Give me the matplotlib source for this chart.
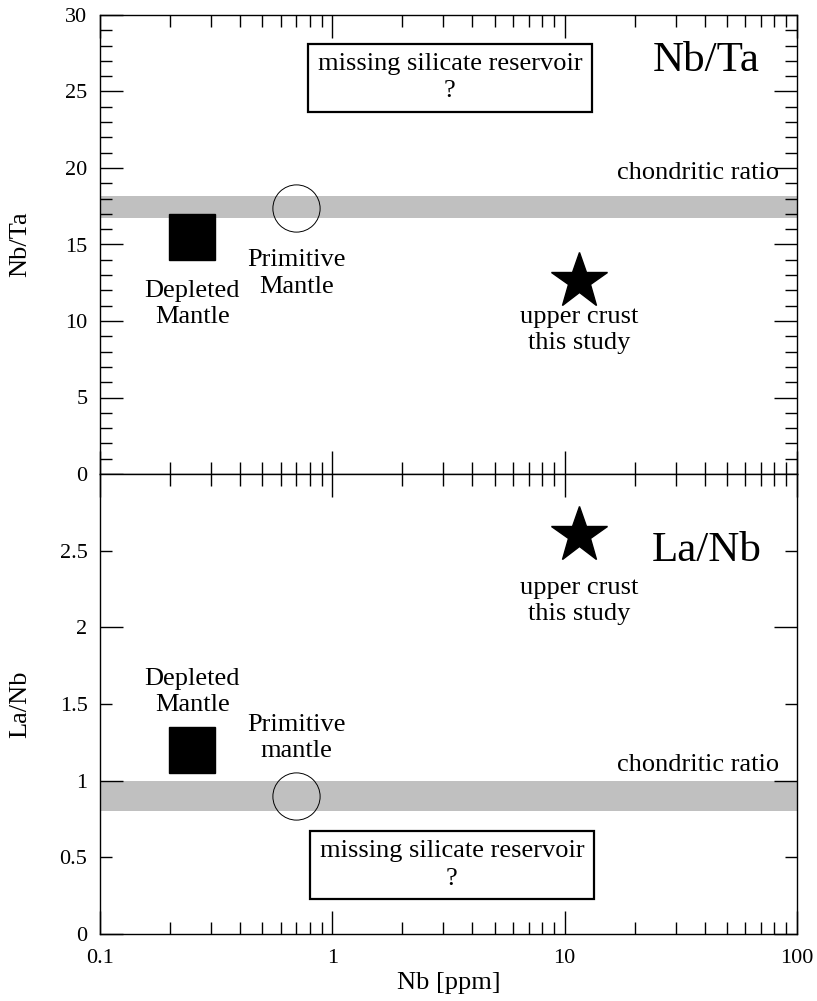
import numpy as np
import matplotlib
matplotlib.use("Agg")
import matplotlib.pyplot as plt
from matplotlib.ticker import FixedLocator, FixedFormatter, NullFormatter

plt.rcParams['font.family'] = ['Liberation Serif', 'DejaVu Serif']

# reservoirs: depleted mantle, primitive mantle, upper crust (this study)
nb = [0.25, 0.70, 11.5]          # Nb [ppm]
nb_ta = [15.5, 17.4, 12.6]
la_nb = [1.2, 0.9, 2.6]

# chondritic ratio bands (low, high)
chond_nbta = (16.7, 18.2)
chond_lanb = (0.8, 1.0)

# labels
top_labels = ['Depleted\nMantle', 'Primitive\nMantle', 'upper crust\nthis study']
bot_labels = ['Depleted\nMantle', 'Primitive\nmantle', 'upper crust\nthis study']
x_major = [0.1, 1, 10, 100]
x_minor = [m * d for d in (0.1, 1, 10) for m in range(2, 10)]

FS = 19
LS = 1.25
fig = plt.figure(figsize=(8.17, 10.01), dpi=100)
W, H = 817., 1001.
L, R = 100 / W, 797 / W
ax1 = fig.add_axes([L, 1 - 474 / H, R - L, (474 - 15) / H])
ax2 = fig.add_axes([L, 1 - 934 / H, R - L, (934 - 474) / H])


def style(ax):
    ax.set_xscale('log')
    ax.set_xlim(0.1, 100)
    ax.xaxis.set_major_locator(FixedLocator(x_major))
    ax.xaxis.set_minor_locator(FixedLocator(x_minor))
    ax.xaxis.set_minor_formatter(NullFormatter())
    ax.tick_params(which='both', direction='in', top=True, right=True,
                   width=1, labelsize=16, pad=9)
    ax.tick_params(which='major', length=16.5)
    ax.tick_params(which='minor', length=8.6)
    for s in ax.spines.values():
        s.set_linewidth(1)


def box(ax, x, y):
    ax.text(x, y, 'missing silicate reservoir\n?', transform=ax.get_yaxis_transform(),
            ha='center', va='center', fontsize=FS, linespacing=1.3,
            bbox=dict(boxstyle='square,pad=0.36', fc='white', ec='black', lw=1.6))


style(ax1)
style(ax2)

# --- top panel: Nb/Ta
ax1.set_ylim(0, 30)
ax1.yaxis.set_major_locator(FixedLocator(np.arange(0, 31, 5)))
ax1.yaxis.set_minor_locator(FixedLocator(np.arange(0, 31, 1)))
ax1.xaxis.set_major_formatter(NullFormatter())
ax1.axhspan(*chond_nbta, color='#c0c0c0', lw=0)
ax1.plot(nb[0], nb_ta[0], 's', ms=33, color='black')
ax1.plot(nb[1], nb_ta[1], 'o', ms=34, mfc='none', mec='black', mew=0.7)
ax1.plot(nb[2], nb_ta[2], '*', ms=42, color='black')

ax1.text(nb[0], 11.1, top_labels[0], ha='center', va='center', fontsize=FS, linespacing=LS)
ax1.text(nb[1], 13.1, top_labels[1], ha='center', va='center', fontsize=FS, linespacing=LS)
ax1.text(nb[2], 9.4, top_labels[2], ha='center', va='center', fontsize=FS, linespacing=LS)
ax1.text(0.975, 19.7, 'chondritic ratio', transform=ax1.get_yaxis_transform(),
         ha='right', va='center', fontsize=FS)
ax1.text(0.87, 27.0, 'Nb/Ta', transform=ax1.get_yaxis_transform(),
         ha='center', va='center', fontsize=31)
box(ax1, 0.502, 25.9)
ax1.set_ylabel('Nb/Ta', fontsize=FS, va='center', ha='center')
ax1.yaxis.set_label_coords(-0.115, 0.5)

# --- bottom panel: La/Nb
ax2.set_ylim(0, 3)
ax2.yaxis.set_major_locator(FixedLocator([0, 1, 2]))
ax2.yaxis.set_major_formatter(FixedFormatter(['0', '1', '2']))
ax2.yaxis.set_minor_locator(FixedLocator([0.5, 1.5, 2.5]))
ax2.yaxis.set_minor_formatter(FixedFormatter(['0.5', '1.5', '2.5']))
ax2.xaxis.set_major_formatter(FixedFormatter(['0.1', '1', '10', '100']))
ax2.tick_params(axis='x', which='major', pad=11)
ax2.axhspan(*chond_lanb, color='#c0c0c0', lw=0)
ax2.plot(nb[0], la_nb[0], 's', ms=33, color='black')
ax2.plot(nb[1], la_nb[1], 'o', ms=34, mfc='none', mec='black', mew=0.7)
ax2.plot(nb[2], la_nb[2], '*', ms=42, color='black')

ax2.text(nb[0], 1.58, bot_labels[0], ha='center', va='center', fontsize=FS, linespacing=LS)
ax2.text(nb[1], 1.28, bot_labels[1], ha='center', va='center', fontsize=FS, linespacing=LS)
ax2.text(nb[2], 2.17, bot_labels[2], ha='center', va='center', fontsize=FS, linespacing=LS)
ax2.text(0.975, 1.10, 'chondritic ratio', transform=ax2.get_yaxis_transform(),
         ha='right', va='center', fontsize=FS)
ax2.text(0.87, 2.5, 'La/Nb', transform=ax2.get_yaxis_transform(),
         ha='center', va='center', fontsize=31)
box(ax2, 0.505, 0.45)
ax2.set_ylabel('La/Nb', fontsize=FS, va='center', ha='center')
ax2.yaxis.set_label_coords(-0.115, 0.5)
ax2.set_xlabel('Nb [ppm]', fontsize=FS, va='center')
ax2.xaxis.set_label_coords(0.5, -0.107)

fig.savefig('out.png', dpi=100)
